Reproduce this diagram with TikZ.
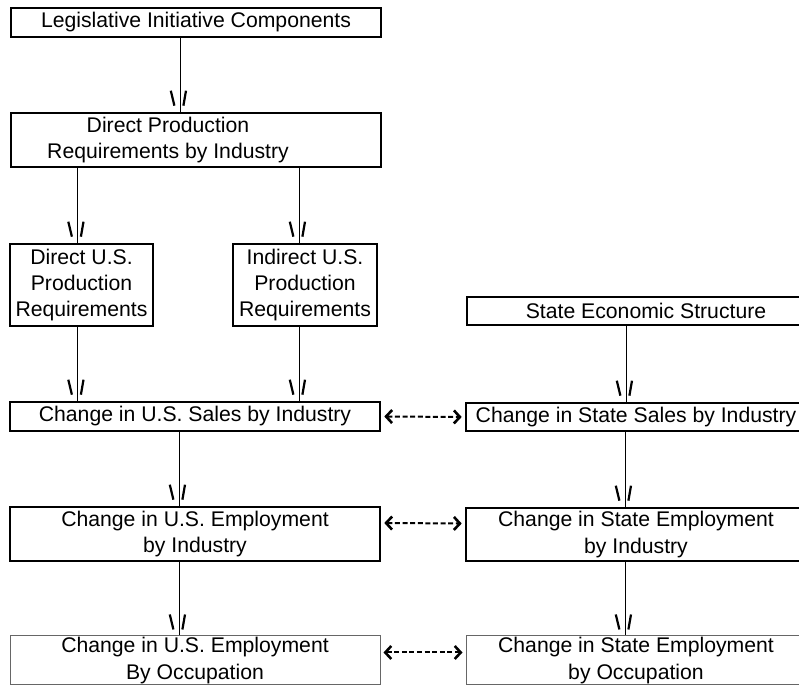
\documentclass[tikz,border=0pt]{standalone}
\usepackage{fontspec}
\setmainfont{Liberation Sans}
\usetikzlibrary{arrows.meta,decorations.markings}
\def\boxwidth{185pt}
\def\statewidth{170pt}

\begin{document}
\begin{tikzpicture}[x=0.5pt,y=-0.5pt,font=\fontsize{10.6}{13.2}\selectfont]
      \tikzstyle{block}=[draw, line width=1.3pt, inner sep=0pt, align=center, minimum width=\boxwidth]
      \tikzstyle{light block}=[block, line width=0.5pt, draw=black!60]
      \tikzstyle{flow}=[line width=0.5pt, postaction={decorate, decoration={markings,
          mark=at position 0.9999 with {\draw[line width=1.1pt] (-10.5pt,-4.6pt) -- (-3pt,-2.8pt) (-10.5pt,3pt) -- (-3pt,1.7pt);}}}]
      \tikzstyle{link}=[line width=1pt, dash pattern=on 2.5pt off 1.3pt,
          {Straight Barb[length=3pt,width=6.5pt,line width=1.3pt]}-{Straight Barb[length=3pt,width=6.5pt,line width=1.3pt]}]

      \useasboundingbox (0,0) rectangle (799,688);

      % U.S. column
      \node[block, minimum height=14.5pt] (legis) at (196,22.5) {Legislative Initiative Components};
      \node[block, minimum height=27pt] (direct) at (196,140)
          {\begin{tabular}{@{}c@{}}Direct Production\\Requirements by Industry\end{tabular}\hspace*{28pt}};
      \node[block, minimum width=71.5pt, minimum height=41pt] (usdirect) at (81.5,285) {Direct U.S.\\Production\\Requirements};
      \node[block, minimum width=72pt, minimum height=41pt] (usindirect) at (305,285) {Indirect U.S.\\Production\\Requirements};
      \node[block, minimum height=14.5pt] (ussales) at (195,416.5) {Change in U.S. Sales by Industry};
      \node[block, minimum height=27pt] (usemploy) at (195,534) {Change in U.S. Employment\\by Industry};
      \node[light block, minimum height=24.5pt] (usoccup) at (195,660.5) {Change in U.S. Employment\\By Occupation};

      % State column
      \node[block, minimum width=179pt, minimum height=14pt] (structure) at (646,311) {State Economic Structure};
      \node[block, minimum width=\statewidth, minimum height=14pt] (statesales) at (636,417) {Change in State Sales by Industry};
      \node[block, minimum width=\statewidth, minimum height=26.5pt] (stateemploy) at (636,534.5) {Change in State Employment\\by Industry};
      \node[light block, minimum width=\statewidth, minimum height=24.5pt] (stateoccup) at (636,660.5) {Change in State Employment\\by Occupation};

      % Flow down the U.S. column
      \draw[flow] ([xshift=-8pt]legis.south) -- ([xshift=-8pt]direct.north);
      \draw[flow] ([xshift=-2pt]usdirect.north |- direct.south) -- ([xshift=-2pt]usdirect.north);
      \draw[flow] ([xshift=-3pt]usindirect.north |- direct.south) -- ([xshift=-3pt]usindirect.north);
      \draw[flow] ([xshift=-2pt]usdirect.south) -- ([xshift=-2pt]usdirect.south |- ussales.north);
      \draw[flow] ([xshift=-3pt]usindirect.south) -- ([xshift=-3pt]usindirect.south |- ussales.north);
      \draw[flow] ([xshift=-8pt]ussales.south) -- ([xshift=-8pt]usemploy.north);
      \draw[flow] ([xshift=-8pt]usemploy.south) -- ([xshift=-8pt]usoccup.north);

      % Flow down the state column
      \draw[flow] ([xshift=-5pt]statesales.north |- structure.south) -- ([xshift=-5pt]statesales.north);
      \draw[flow] ([xshift=-5.5pt]statesales.south) -- ([xshift=-5.5pt]stateemploy.north);
      \draw[flow] ([xshift=-5.5pt]stateemploy.south) -- ([xshift=-5.5pt]stateoccup.north);

      % Links between the two columns
      \draw[link] ([xshift=1.5pt]ussales.east) -- ([xshift=-1.5pt]statesales.west);
      \draw[link] ([xshift=1.5pt,yshift=5.5pt]usemploy.east) -- ([xshift=-1.5pt,yshift=5.5pt]stateemploy.west);
      \draw[link] ([xshift=1.5pt,yshift=4pt]usoccup.east) -- ([xshift=-1.5pt,yshift=4pt]stateoccup.west);
\end{tikzpicture}
\end{document}
